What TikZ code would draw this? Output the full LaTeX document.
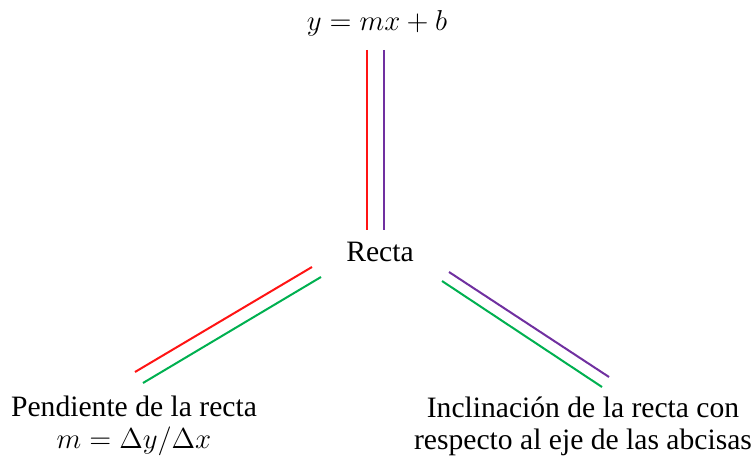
\documentclass[tikz,border=0pt]{standalone}
\usepackage{fontspec}
\setmainfont{Liberation Serif}
\usetikzlibrary{positioning}

\definecolor{lnred}{RGB}{255,20,20}
\definecolor{lnpurple}{RGB}{112,48,160}
\definecolor{lngreen}{RGB}{0,176,80}

\begin{document}
\begin{tikzpicture}[
  x=0.5pt, y=-0.5pt,
  label/.style={align=center, inner sep=1pt, font=\fontsize{14.8}{16}\selectfont},
  link/.style={line width=1pt}
]
  \useasboundingbox (0,0) rectangle (754,458);

  % textos
  \node[label] (eq) at (377,23) {$y = mx + b$};
  \node[label] (recta) at (380,252) {Recta};
  \node[label] (pend) at (134,426) {Pendiente de la recta\\$m = \Delta y/\Delta x$};
  \node[label] (incl) at (583,426) {Inclinación de la recta con\\respecto al eje de las abcisas};

  % extremos de las rectas
  \coordinate (eqR) at (367,50);   \coordinate (reR) at (367,230);
  \coordinate (eqP) at (384,50);   \coordinate (reP) at (384,230);
  \coordinate (reLR) at (312,267); \coordinate (peR) at (135,372);
  \coordinate (reLG) at (321,277); \coordinate (peG) at (143,383);
  \coordinate (reRP) at (449,272); \coordinate (inP) at (609,377);
  \coordinate (reRG) at (442,281); \coordinate (inG) at (602,387);

  % conexiones
  \draw[link, lnred] (eqR) -- (reR);
  \draw[link, lnpurple] (eqP) -- (reP);
  \draw[link, lnred] (reLR) -- (peR);
  \draw[link, lngreen] (reLG) -- (peG);
  \draw[link, lnpurple] (reRP) -- (inP);
  \draw[link, lngreen] (reRG) -- (inG);
\end{tikzpicture}
\end{document}
